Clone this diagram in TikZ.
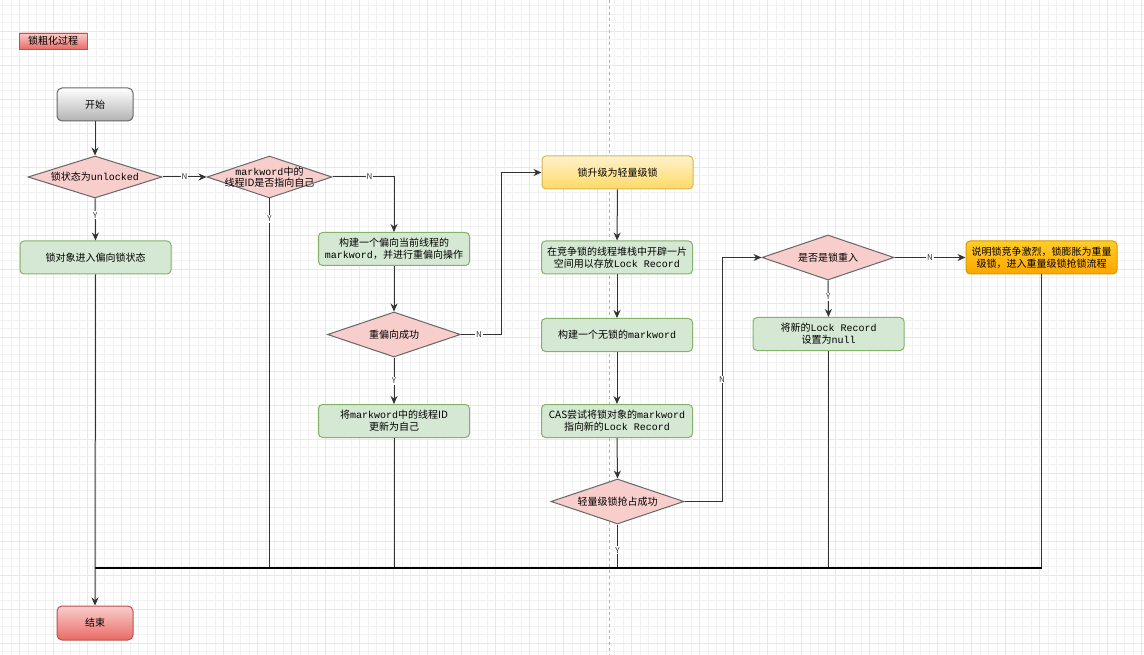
\documentclass[tikz,border=0pt]{standalone}
\usepackage{fontspec}
\setmainfont{Noto Sans CJK SC}
\newfontfamily\monof{Liberation Mono}
\usetikzlibrary{arrows.meta,shapes.geometric}
\newcommand{\mw}[1]{{\monof #1}}
\definecolor{gfill}{HTML}{D5E8D4}
\definecolor{gline}{HTML}{82B366}
\definecolor{pfill}{HTML}{F8CECC}
\definecolor{pline}{HTML}{666666}
\definecolor{rline}{HTML}{B85450}
\definecolor{rtop}{HTML}{F8CECC}
\definecolor{rbot}{HTML}{EA6B66}
\definecolor{ytop}{HTML}{FFF2CC}
\definecolor{ybot}{HTML}{FFD966}
\definecolor{yline}{HTML}{D6B656}
\definecolor{otop}{HTML}{FFCD28}
\definecolor{obot}{HTML}{FFA500}
\definecolor{oline}{HTML}{D79B00}
\definecolor{edge}{HTML}{333333}
\tikzset{
  minorgrid/.style={draw=black!5, line width=0.5pt},
  majorgrid/.style={draw=black!9, line width=0.7pt},
  txt/.style={font=\fontsize{10}{12}\selectfont, align=center, text=black},
  gbox/.style={txt, draw=gline, fill=gfill, rounded corners=4pt, line width=1pt,
     minimum width=151pt, minimum height=33pt, inner sep=0pt},
  dia/.style={diamond, draw=pline, fill=pfill, line width=1pt, inner sep=0pt},
  arr/.style={draw=edge, line width=1pt, -{Stealth[length=8pt,width=7pt]}},
  ln/.style={draw=edge, line width=1pt},
  elab/.style={font=\fontsize{8}{9}\selectfont, fill=white, inner sep=1pt, text=black!80},
}
\begin{document}
\begin{tikzpicture}[x=1pt,y=-1pt]
\useasboundingbox (0,0) rectangle (1144,655);
\fill[white] (0,0) rectangle (1144,655);
% grid
\foreach \i in {0,...,134} { \draw[minorgrid] ({2.3+8.5*\i},0) -- ({2.3+8.5*\i},655); }
\foreach \i in {0,...,77} { \draw[minorgrid] (0,{5.5+8.5*\i}) -- (1144,{5.5+8.5*\i}); }
\foreach \i in {0,...,33} { \draw[majorgrid] ({19.3+34*\i},0) -- ({19.3+34*\i},655); }
\foreach \i in {0,...,19} { \draw[majorgrid] (0,{31+34*\i}) -- (1144,{31+34*\i}); }
% page break line
\draw[black!30, dashed, line width=0.8pt] (609,0) -- (609,655);

% title
\node[txt, draw=rline, top color=rtop, bottom color=rbot, minimum width=68pt, minimum height=16pt, inner sep=0pt] (title) at (53,41) {锁粗化过程};

% nodes
\node[txt, draw=pline, top color=white, bottom color=black!30, rounded corners=5pt, line width=1pt, minimum width=76pt, minimum height=33pt, inner sep=0pt] (start) at (95,104.5) {开始};
\node[dia, minimum width=134pt, minimum height=42pt] (d1) at (95,177) {};
\node[txt] at (d1) {锁状态为\mw{unlocked}};
\node[dia, minimum width=125pt, minimum height=42pt] (d2) at (269.5,177) {};
\node[txt, font=\fontsize{10}{11}\selectfont] at (d2) {\mw{markword}中的\\线程ID是否指向自己};
\node[gbox] (b1) at (95.5,257.5) {锁对象进入偏向锁状态};
\node[gbox] (b3) at (394,249) {构建一个偏向当前线程的\\\mw{markword}，并进行重偏向操作};
\node[dia, minimum width=133pt, minimum height=45pt] (d3) at (394,334.5) {};
\node[txt] at (d3) {重偏向成功};
\node[gbox] (b4) at (394,421) {将\mw{markword}中的线程ID\\更新为自己};

\node[txt, draw=yline, top color=ytop, bottom color=ybot, rounded corners=4pt, line width=1pt, minimum width=151pt, minimum height=33pt, inner sep=0pt] (lw) at (617.5,172.5) {锁升级为轻量级锁};
\node[gbox] (s1) at (617,257.5) {在竞争锁的线程堆栈中开辟一片\\空间用以存放\mw{Lock Record}};
\node[gbox] (s2) at (617,335) {构建一个无锁的\mw{markword}};
\node[gbox] (s3) at (617,421) {CAS尝试将锁对象的\mw{markword}\\指向新的\mw{Lock Record}};
\node[dia, minimum width=133pt, minimum height=45pt] (d4) at (617.5,501.5) {};
\node[txt] at (d4) {轻量级锁抢占成功};

\node[dia, minimum width=132pt, minimum height=45pt] (d5) at (828,257.5) {};
\node[txt] at (d5) {是否是锁重入};
\node[txt, draw=oline, top color=otop, bottom color=obot, rounded corners=4pt, line width=1pt, minimum width=151pt, minimum height=33pt, inner sep=0pt] (heavy) at (1041.5,257.5) {说明锁竞争激烈，锁膨胀为重量\\级锁，进入重量级锁抢锁流程};
\node[gbox] (nul) at (828.5,334) {将新的\mw{Lock Record}\\设置为\mw{null}};

\node[txt, draw=rline, top color=rtop, bottom color=rbot, rounded corners=5pt, line width=1pt, minimum width=76pt, minimum height=34pt, inner sep=0pt] (end) at (95,623) {结束};

% junction coordinates
\coordinate (jL) at (95,567.7);
\coordinate (jR) at (1041.5,567.7);
\coordinate (t1) at (501,0);
\coordinate (t2) at (722,0);

% edges
\draw[arr] (start) -- (d1);
\draw[arr] (d1.south) -- node[elab, pos=0.4] {Y} (b1.north);
\draw[arr] (d1.east) -- node[elab, pos=0.5] {N} (d2.west);
\draw[arr] (d2.east) -| node[elab, pos=0.3] {N} (b3.north);
\draw[ln] (d2.south) -- node[elab, pos=0.055] {Y} (d2.south |- jL);
\draw[arr] (b3) -- (d3);
\draw[arr] (d3.east) -- node[elab, pos=0.45] {N} (d3.east -| t1) -- (t1 |- lw.west) -- (lw.west);
\draw[arr] (d3.south) -- node[elab, pos=0.5] {Y} (b4.north);
\draw[ln] (b4.south) -- (b4.south |- jL);
\draw[arr] (lw) -- (s1);
\draw[arr] (s1) -- (s2);
\draw[arr] (s2) -- (s3);
\draw[arr] (s3.south) -- (d4.north);
\draw[ln] (d4.south) -- node[elab, pos=0.6] {Y} (d4.south |- jL);
\draw[arr] (d4.east) -- (d4.east -| t2) -- node[elab, pos=0.5] {N} (t2 |- d5.west) -- (d5.west);
\draw[arr] (d5.east) -- node[elab, pos=0.5] {N} (heavy.west);
\draw[arr] (d5.south) -- node[elab, pos=0.45] {Y} (nul.north);
\draw[ln] (nul.south) -- (nul.south |- jL);
\draw[ln] (heavy.south) -- (jR);
\draw[black, line width=2pt] (jL) -- (jR);
\draw[arr] (b1.south) -- (end.north);
\end{tikzpicture}
\end{document}
